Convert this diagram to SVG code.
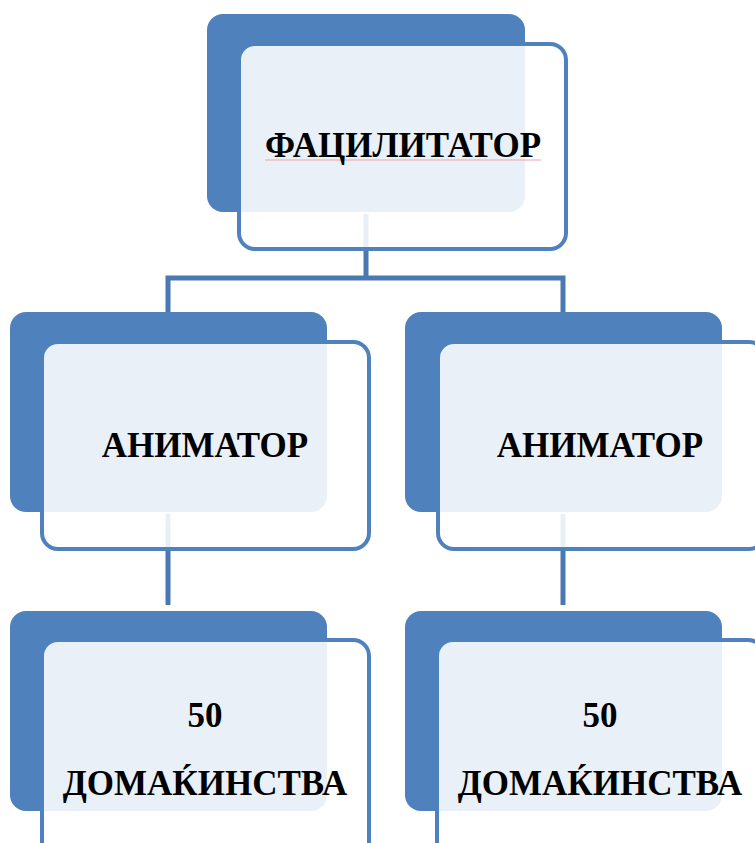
<svg xmlns="http://www.w3.org/2000/svg" width="755" height="843" viewBox="0 0 755 843">
<style>
.back{fill:#4f81bd}
.front{fill:#ffffff;fill-opacity:0.88;stroke:#4f81bd;stroke-width:4}
.conn{fill:none;stroke:#4a78b0;stroke-width:5}
.lbl{font-family:"Liberation Serif","DejaVu Serif",serif;font-weight:bold;fill:#000;text-anchor:middle}
</style>
<rect width="755" height="843" fill="#ffffff"/>
<g id="connectors">
<path class="conn" d="M366 214 V278 M168 313 V278 H563 V313"/>
<path class="conn" d="M168 514 V605"/>
<path class="conn" d="M563 514 V605"/>
</g>
<g id="facilitator">
<rect class="back" x="207" y="14" width="318" height="198" rx="16"/>
<rect class="front" x="239" y="44" width="327" height="205" rx="16"/>
<path d="M265 160 H541" stroke="#f4a0a8" stroke-width="1" fill="none"/>
<text class="lbl" x="403" y="157" font-size="35">ФАЦИЛИТАТОР</text>
</g>
<g id="animator-left">
<rect class="back" x="10" y="312" width="317" height="200" rx="16"/>
<rect class="front" x="42" y="342" width="327" height="207" rx="16"/>
<text class="lbl" x="205" y="457" font-size="35">АНИМАТОР</text>
</g>
<g id="animator-right">
<rect class="back" x="405" y="312" width="317" height="200" rx="16"/>
<rect class="front" x="438" y="342" width="327" height="207" rx="16"/>
<text class="lbl" x="600" y="457" font-size="35">АНИМАТОР</text>
</g>
<g id="households-left">
<rect class="back" x="10" y="611" width="317" height="200" rx="16"/>
<rect class="front" x="42" y="640" width="327" height="220" rx="16"/>
<text class="lbl" x="205" y="727" font-size="35">50</text>
<text class="lbl" x="205" y="795" font-size="35">ДОМАЌИНСТВА</text>
</g>
<g id="households-right">
<rect class="back" x="405" y="611" width="317" height="200" rx="16"/>
<rect class="front" x="437" y="640" width="327" height="220" rx="16"/>
<text class="lbl" x="600" y="727" font-size="35">50</text>
<text class="lbl" x="600" y="795" font-size="35">ДОМАЌИНСТВА</text>
</g>
</svg>
